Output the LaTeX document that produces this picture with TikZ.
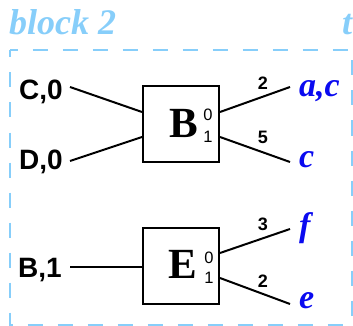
\documentclass[tikz,border=0pt]{standalone}
\usepackage{fontspec}
\setmainfont{Liberation Serif}
\setsansfont{Liberation Sans}
\definecolor{lblue}{HTML}{87CEFA}
\definecolor{tblue}{HTML}{0A0AF0}
\begin{document}
\begin{tikzpicture}[x=1pt,y=-1pt,
 blockbox/.style={draw, line width=2pt, minimum width=76pt, minimum height=76pt, inner sep=0pt},
 conn/.style={line width=2pt},
 inlab/.style={font=\sffamily\bfseries\fontsize{28}{28}\selectfont, inner sep=0pt, anchor=base east},
 wlab/.style={font=\sffamily\bfseries\fontsize{18}{18}\selectfont, inner sep=0pt, anchor=base},
 outlab/.style={font=\bfseries\itshape\fontsize{34}{34}\selectfont, text=tblue, inner sep=0pt, anchor=base west},
 portlab/.style={font=\sffamily\fontsize{16.5}{16.5}\selectfont, inner sep=0pt, anchor=base},
 letter/.style={font=\bfseries\fontsize{43}{43}\selectfont, inner sep=0pt, anchor=base},
 frame/.style={draw=lblue, line width=2.5pt, dash pattern=on 15pt off 15pt, dash phase=7.5pt},
 title/.style={font=\bfseries\itshape\fontsize{36}{36}\selectfont, text=lblue, inner sep=0pt, anchor=base west}]
\useasboundingbox (0,0) rectangle (353,326);
% frame
\draw[frame] (10,50) -- (352,50) -- (352,325);
\draw[frame] (10,50) -- (10,325) -- (352,325);
\node[title] (ttl) at (9,35) {block 2};
\node[title] (ttr) at (342,35) {t};
% boxes
\node[blockbox] (B) at (181,124) {};
\node[blockbox] (E) at (181,265.5) {};
\node[letter] (Bl) at (184,137) {B};
\node[letter] (El) at (183,278) {E};
\node[portlab] (B0) at (208,120.5) {0};
\node[portlab] (B1) at (208,142.5) {1};
\node[portlab] (E0) at (209,263) {0};
\node[portlab] (E1) at (209,283) {1};
% input labels
\node[inlab] (C0) at (63,100) {C,0};
\node[inlab] (D0) at (63,169) {D,0};
\node[inlab] (B1in) at (62,277) {B,1};
\coordinate (pC0) at (70,87);
\coordinate (pD0) at (70,161);
\coordinate (pB1) at (70,267);
% output labels
\node[outlab] (ac) at (299,97) {a,c};
\node[outlab] (c) at (299,167) {c};
\node[outlab] (f) at (299,236) {f};
\node[outlab] (e) at (299,308) {e};
\coordinate (pac) at (290,87);
\coordinate (pc) at (290,162);
\coordinate (pf) at (290,229);
\coordinate (pe) at (290,304);
% connectors
\draw[conn] (pC0) -- ([yshift=12pt]B.west);
\draw[conn] (pD0) -- ([yshift=-13pt]B.west);
\draw[conn] (pB1) -- ([yshift=-1.5pt]E.west);
\draw[conn] ([yshift=12pt]B.east) -- (pac);
\draw[conn] ([yshift=-13pt]B.east) -- (pc);
\draw[conn] ([yshift=12.5pt]E.east) -- (pf);
\draw[conn] ([yshift=-12.5pt]E.east) -- (pe);
% weights
\node[wlab] (w1) at (263,90) {2};
\node[wlab] (w2) at (263,143) {5};
\node[wlab] (w3) at (263,230) {3};
\node[wlab] (w4) at (263,287) {2};
\end{tikzpicture}
\end{document}
